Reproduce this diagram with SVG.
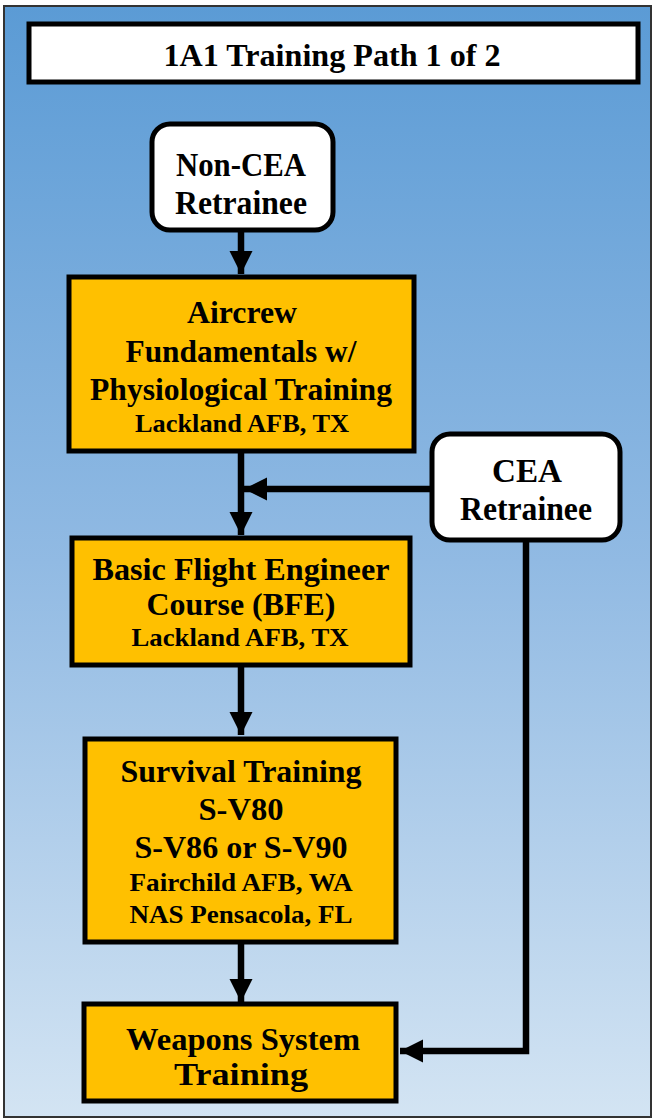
<svg xmlns="http://www.w3.org/2000/svg" width="655" height="1119" viewBox="0 0 655 1119">
  <defs>
    <linearGradient id="bg" x1="0" y1="0" x2="0" y2="1">
      <stop offset="0" stop-color="#5b9bd5"/>
      <stop offset="0.5" stop-color="#91bae3"/>
      <stop offset="1" stop-color="#d3e4f3"/>
    </linearGradient>
    <marker id="arrow" viewBox="0 0 10 10" refX="10" refY="5" markerWidth="3.6" markerHeight="3.6" orient="auto" markerUnits="strokeWidth">
      <path d="M0,0 L10,5 L0,10 z" fill="#000"/>
    </marker>
  </defs>
  <style>
    .title { fill: #fff; stroke: #000; stroke-width: 5; }
    .start { fill: #fff; stroke: #000; stroke-width: 5; }
    .step { fill: #ffc000; stroke: #000; stroke-width: 5; }
    .t { font-family: "Liberation Serif", "Times New Roman", serif; font-weight: bold; fill: #000; text-anchor: middle; }
    .big { font-size: 34px; }
    .mid { font-size: 32px; }
    .small { font-size: 25px; }
    .conn { fill: none; stroke: #000; stroke-width: 6.5; }
  </style>

  <!-- page background and frame -->
  <rect x="4" y="6" width="647" height="1111" fill="url(#bg)" stroke="#333" stroke-width="2"/>

  <g id="title">
    <rect class="title" x="29" y="24" width="609" height="58"/>
    <text class="t" x="332" y="66" font-size="31" textLength="337" lengthAdjust="spacingAndGlyphs">1A1 Training Path 1 of 2</text>
  </g>

  <g id="connectors">
    <line class="conn" x1="241" y1="231" x2="241" y2="274" marker-end="url(#arrow)"/>
    <line class="conn" x1="241" y1="453" x2="241" y2="535" marker-end="url(#arrow)"/>
    <line class="conn" x1="430" y1="489" x2="244" y2="489" marker-end="url(#arrow)"/>
    <line class="conn" x1="241" y1="667" x2="241" y2="735" marker-end="url(#arrow)"/>
    <line class="conn" x1="241" y1="943" x2="241" y2="1002" marker-end="url(#arrow)"/>
    <polyline class="conn" points="526,542 526,1051 400,1051" marker-end="url(#arrow)"/>
  </g>

  <g id="non-cea">
    <rect class="start" x="152" y="124" width="181" height="106" rx="18"/>
    <text class="t big" x="241" y="176" textLength="130" lengthAdjust="spacingAndGlyphs">Non-CEA</text>
    <text class="t big" x="241" y="214" textLength="132" lengthAdjust="spacingAndGlyphs">Retrainee</text>
  </g>

  <g id="aircrew">
    <rect class="step" x="69" y="277" width="345" height="174"/>
    <text class="t mid" x="242" y="323" textLength="110" lengthAdjust="spacingAndGlyphs">Aircrew</text>
    <text class="t mid" x="241" y="362" textLength="231" lengthAdjust="spacingAndGlyphs">Fundamentals w/</text>
    <text class="t mid" x="241" y="400" textLength="302" lengthAdjust="spacingAndGlyphs">Physiological Training</text>
    <text class="t small" x="242" y="432" textLength="214" lengthAdjust="spacingAndGlyphs">Lackland AFB, TX</text>
  </g>

  <g id="cea">
    <rect class="start" x="432" y="434" width="188" height="106" rx="18"/>
    <text class="t big" x="527" y="482" textLength="70" lengthAdjust="spacingAndGlyphs">CEA</text>
    <text class="t big" x="526" y="520" textLength="132" lengthAdjust="spacingAndGlyphs">Retrainee</text>
  </g>

  <g id="bfe">
    <rect class="step" x="72" y="538" width="338" height="127"/>
    <text class="t mid" x="241" y="580" textLength="297" lengthAdjust="spacingAndGlyphs">Basic Flight Engineer</text>
    <text class="t mid" x="241" y="615" textLength="189" lengthAdjust="spacingAndGlyphs">Course (BFE)</text>
    <text class="t small" x="240" y="646" textLength="217" lengthAdjust="spacingAndGlyphs">Lackland AFB, TX</text>
  </g>

  <g id="survival">
    <rect class="step" x="85" y="739" width="311" height="203"/>
    <text class="t mid" x="241" y="782" textLength="241" lengthAdjust="spacingAndGlyphs">Survival Training</text>
    <text class="t mid" x="241" y="820" textLength="85" lengthAdjust="spacingAndGlyphs">S-V80</text>
    <text class="t mid" x="241" y="858" textLength="213" lengthAdjust="spacingAndGlyphs">S-V86 or S-V90</text>
    <text class="t small" x="241" y="891" textLength="223" lengthAdjust="spacingAndGlyphs">Fairchild  AFB, WA</text>
    <text class="t small" x="241" y="923" textLength="223" lengthAdjust="spacingAndGlyphs">NAS Pensacola, FL</text>
  </g>

  <g id="weapons">
    <rect class="step" x="84" y="1004" width="312" height="97"/>
    <text class="t mid" x="243" y="1050" textLength="234" lengthAdjust="spacingAndGlyphs">Weapons System</text>
    <text class="t mid" x="241" y="1085" textLength="134" lengthAdjust="spacingAndGlyphs">Training</text>
  </g>
</svg>
